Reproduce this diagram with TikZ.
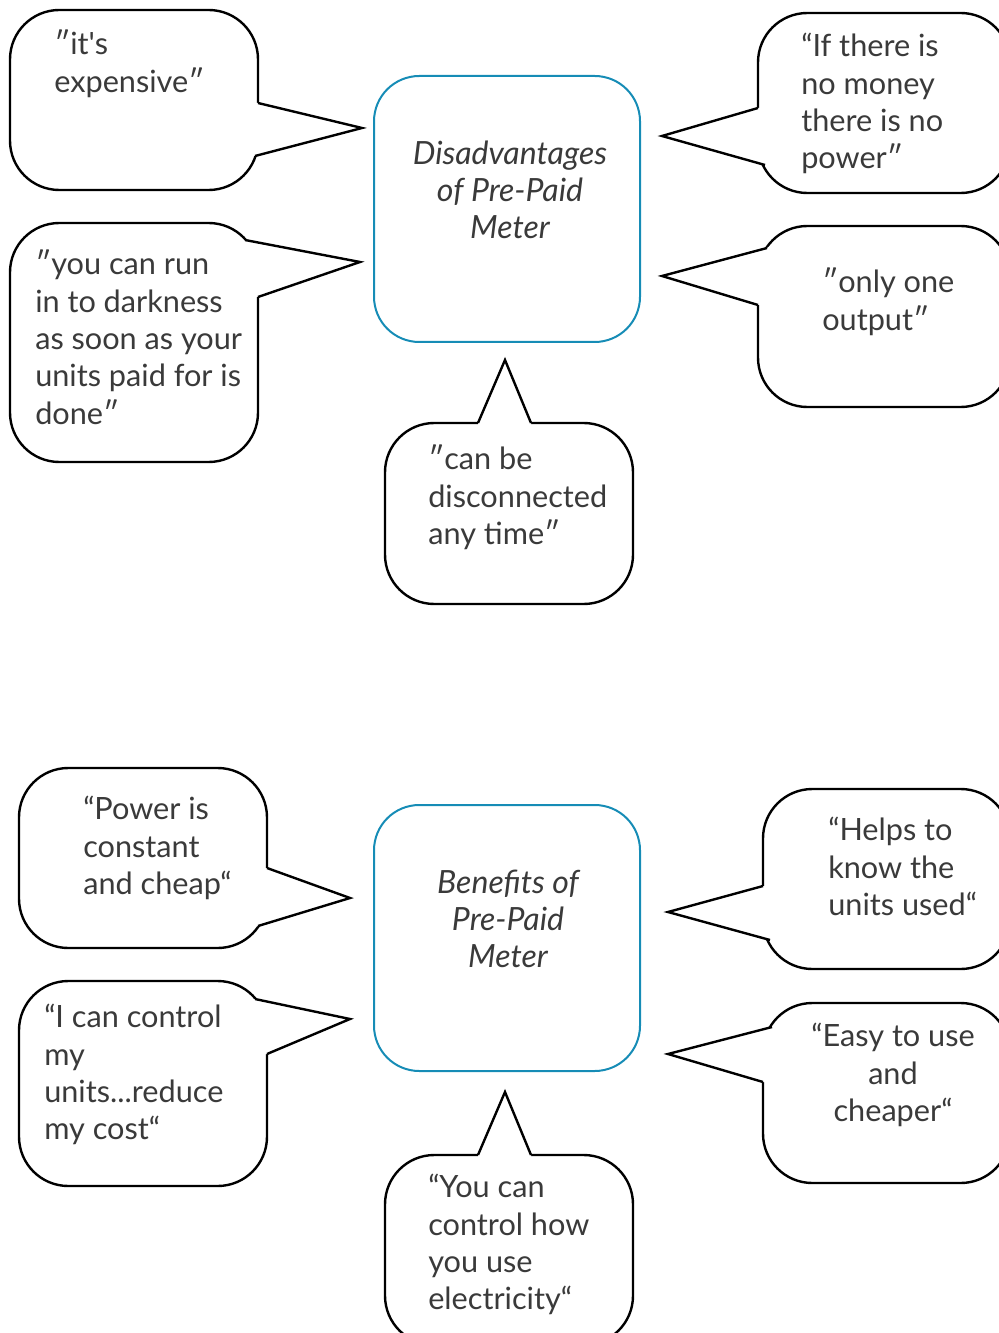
\documentclass[tikz,border=0pt]{standalone}
\usepackage{fontspec}
\setmainfont{Lato}
\definecolor{meterblue}{RGB}{22,140,182}
\definecolor{quotegray}{RGB}{58,58,58}
\tikzset{
  bubble/.style={draw=black, line width=1.8pt, rounded corners=37pt, fill=white},
  pointer/.style={draw=black, line width=1.8pt, line join=miter},
  topicbox/.style={draw=meterblue, line width=1.5pt, rounded corners=34pt},
  quote/.style={inner sep=0pt, anchor=north west, align=left, text=quotegray,
    font=\fontsize{23}{28}\selectfont},
  topic/.style={inner sep=0pt, align=center, text=quotegray,
    font=\fontsize{24}{28}\selectfont\itshape},
}

\begin{document}
\begin{tikzpicture}[x=0.75pt,y=-0.75pt]
\useasboundingbox (0,0) rectangle (998,1333);

% disadvantages
\draw[topicbox] (374,76) rectangle (640,342);
\node[topic] (dis) at (510,190) {Disadvantages\\of Pre-Paid\\Meter};

\draw[bubble] (10,10) rectangle (258,190);
\fill[white] (243,103) -- (258,103) -- (362,128) -- (255,156) -- (243,156) -- cycle;
\draw[pointer] (258,103) -- (362,128) -- (255,156);
\node[quote] (expensive) at (54,30) {″it\textquotesingle s\\expensive″};

\draw[bubble] (10,223) rectangle (258,462);
\fill[white] (235,250) -- (245,240) -- (360,262) -- (258,297) -- (243,297) -- (235,297) -- cycle;
\draw[pointer] (245,240) -- (360,262) -- (258,297);
\node[quote] (darkness) at (35,250) {″you can run\\in to darkness\\as soon as your\\units paid for is\\done″};

\draw[bubble] (385,423) rectangle (633,604);
\fill[white] (478,438) -- (478,423) -- (505,360) -- (531,423) -- (531,438) -- cycle;
\draw[pointer] (478,423) -- (505,360) -- (531,423);
\node[quote] (disconnect) at (428,445) {″can be\\disconnected\\any time″};

\draw[bubble] (758,13) rectangle (1010,193);
\fill[white] (773,108) -- (758,108) -- (662,136) -- (765,165) -- (773,165) -- cycle;
\draw[pointer] (758,108) -- (662,136) -- (765,165);
\node[quote] (money) at (801,33) {“If there is\\no money\\there is no\\power″};

\draw[bubble] (758,226) rectangle (1010,407);
\fill[white] (773,244) -- (767,248) -- (662,276) -- (758,305) -- (773,305) -- cycle;
\draw[pointer] (767,248) -- (662,276) -- (758,305);
\node[quote] (output) at (822,268) {″only one\\output″};

% benefits
\draw[topicbox] (374,805) rectangle (640,1071);
\node[topic] (ben) at (508,919) {Benefits of\\Pre-Paid\\Meter};

\draw[bubble] (19,768) rectangle (267,948);
\fill[white] (252,868) -- (267,868) -- (350,898) -- (258,926) -- (252,926) -- cycle;
\draw[pointer] (267,868) -- (350,898) -- (258,926);
\node[quote] (cheap) at (83,796) {“Power is\\constant\\and cheap“};

\draw[bubble] (19,981) rectangle (267,1186);
\fill[white] (245,1005) -- (255,999) -- (350,1019) -- (267,1054) -- (245,1054) -- cycle;
\draw[pointer] (255,999) -- (350,1019) -- (267,1054);
\node[quote] (control) at (44,1004) {“I can control\\my\\units...reduce\\my cost“};

\draw[bubble] (385,1155) rectangle (633,1345);
\fill[white] (478,1170) -- (478,1155) -- (505,1092) -- (531,1155) -- (531,1170) -- cycle;
\draw[pointer] (478,1155) -- (505,1092) -- (531,1155);
\node[quote] (howuse) at (428,1174) {“You can\\control how\\you use\\electricity“};

\draw[bubble] (763,789) rectangle (1010,969);
\fill[white] (778,886) -- (763,886) -- (668,912) -- (770,940) -- (778,940) -- cycle;
\draw[pointer] (763,886) -- (668,912) -- (770,940);
\node[quote] (units) at (828,817) {“Helps to\\know the\\units used“};

\draw[bubble] (763,1003) rectangle (1010,1183);
\fill[white] (778,1023) -- (772,1027) -- (668,1054) -- (763,1082) -- (778,1082) -- cycle;
\draw[pointer] (772,1027) -- (668,1054) -- (763,1082);
\node[quote, anchor=north, align=center] (easy) at (893,1023) {“Easy to use\\and\\cheaper“};
\end{tikzpicture}
\end{document}
